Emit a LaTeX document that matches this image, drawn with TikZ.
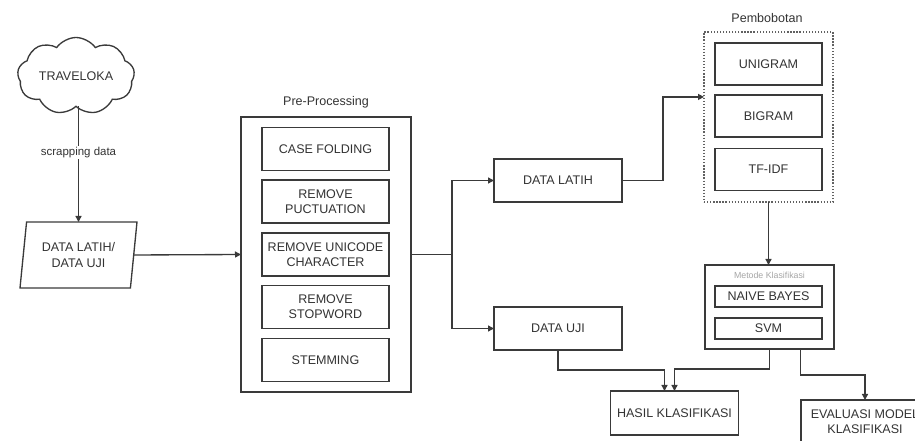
\documentclass[tikz,border=0pt]{standalone}
\usepackage{fontspec}
\setmainfont{Liberation Sans}
\usetikzlibrary{shapes.geometric,shapes.symbols,arrows.meta,calc}

\definecolor{linec}{HTML}{3A3A3A}
\definecolor{txtc}{HTML}{333333}

\begin{document}
\begin{tikzpicture}[x=0.75pt,y=-0.75pt,
  base/.style={text=txtc, font=\fontsize{9.4}{11.5}\selectfont, align=center,
               inner sep=0pt, outer sep=0pt},
  box/.style={base, draw=linec, line width=1pt, fill=white},
  lbl/.style={base},
  link/.style={draw=linec, line width=1pt},
  arr/.style={link, -{Triangle[length=4.5pt,width=4.5pt]}},
  % sizes of the recurring boxes
  stepbox/.style={box, minimum width=95.25pt, minimum height=32.25pt},
  databox/.style={box, minimum width=96pt, minimum height=32.25pt},
  gramBox/.style={box, minimum width=80.25pt, minimum height=31.5pt},
  methodbox/.style={box, minimum width=80.25pt, minimum height=15.75pt}]

\path[use as bounding box] (0,0) rectangle (915,441);
\clip (0,0) rectangle (915,441);

% source and input data
\node[base, cloud, cloud puffs=9, cloud puff arc=110, cloud ignores aspect,
      draw=linec, line width=1pt, minimum width=87.75pt, minimum height=57.75pt]
      (src) at (76,76) {TRAVELOKA};
\node[base, trapezium, trapezium left angle=75, trapezium right angle=105,
      trapezium stretches body, draw=linec, line width=1pt,
      minimum width=87.75pt, minimum height=49.5pt]
      (input) at (78.5,255) {DATA LATIH/\\DATA UJI};

% pre-processing stage
\node[box, minimum width=127.5pt, minimum height=206.25pt] (pre) at (326,254.5) {};
\node[lbl] (prelbl) at (326,102) {Pre-Processing};
\node[stepbox] (cf)   at (325.5,149)   {CASE FOLDING};
\node[stepbox] (rp)   at (325.5,201.5) {REMOVE\\PUCTUATION};
\node[stepbox] (ru)   at (325.5,254.5) {REMOVE UNICODE\\CHARACTER};
\node[stepbox] (rs)   at (325.5,307)   {REMOVE\\STOPWORD};
\node[stepbox] (stem) at (325.5,360)   {STEMMING};

% data split
\node[databox] (latih) at (558,180.5) {DATA LATIH};
\node[databox] (uji)   at (558,328.5) {DATA UJI};

% weighting
\node[box, draw=linec!80, line width=0.8pt, minimum width=96.75pt, minimum height=127.5pt,
      dash pattern=on 1pt off 1.3pt] (pemb) at (768.5,117) {};
\node[lbl] (pemblbl) at (767,18) {Pembobotan};
\node[gramBox] (uni)   at (768.5,64)    {UNIGRAM};
\node[gramBox] (bi)    at (768.5,116)   {BIGRAM};
\node[gramBox] (tfidf) at (768.5,169.5) {TF-IDF};

% classification methods
\node[box, minimum width=96.75pt, minimum height=63pt] (metode) at (769.5,307) {};
\node[lbl, text=gray!70, font=\fontsize{6.6}{8}\selectfont] (metlbl) at (769.5,275) {Metode Klasifikasi};
\node[methodbox] (nb)  at (768.5,296.5) {NAIVE BAYES};
\node[methodbox] (svm) at (768.5,328.5) {SVM};

% results
\node[databox, minimum height=33pt] (hasil) at (674.5,413) {HASIL KLASIFIKASI};
\node[databox, minimum height=33pt] (eval)  at (865,422) {EVALUASI MODEL\\KLASIFIKASI};

% connectors
\draw[arr] (input.north |- src.south) -- node[lbl, fill=white, pos=0.4,
      font=\fontsize{8.6}{10}\selectfont, inner sep=1pt] (scrap) {scrapping data} (input.north);
\draw[arr] (input.east) -- (pre.west);
\coordinate (split) at ($(pre.east)+(41,0)$);
\draw[link] (pre.east) -- (split);
\draw[arr] (split) |- (latih.west);
\draw[arr] (split) |- (uji.west);
\coordinate (pin) at ($(pemb.north west)!0.382!(pemb.south west)$);
\draw[arr] (latih.east) -- ++(41,0) |- (pin);
\draw[arr] (pemb.south) -- (pemb.south |- metode.north);
\draw[arr] (uji.south) -- ++(0,20) -| ($(hasil.north)+(-10,0)$);
\draw[arr] (metode.south) -- ++(0,20) -| (hasil.north);
\draw[arr] ($(metode.south)+(31,0)$) -- ++(0,26) -| (eval.north);

\end{tikzpicture}
\end{document}
